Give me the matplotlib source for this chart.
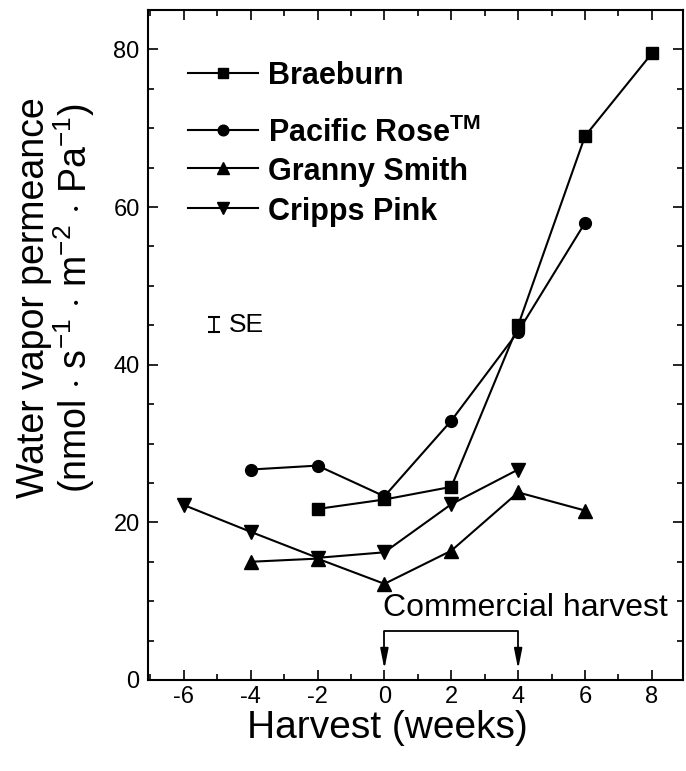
import matplotlib
matplotlib.use("Agg")
import matplotlib.pyplot as plt
from matplotlib.ticker import MultipleLocator
from matplotlib.lines import Line2D

plt.rcParams['font.family'] = ['Liberation Sans', 'DejaVu Sans']
plt.rcParams['mathtext.fontset'] = 'custom'
plt.rcParams['mathtext.rm'] = 'Liberation Sans'
plt.rcParams['mathtext.it'] = 'Liberation Sans:italic'
plt.rcParams['mathtext.bf'] = 'Liberation Sans:bold'
plt.rcParams['axes.unicode_minus'] = False

# Data
braeburn_x = [-2, 0, 2, 4, 6, 8]
braeburn_y = [21.7, 22.9, 24.5, 45.0, 69.0, 79.5]
pacific_x = [-4, -2, 0, 2, 4, 6]
pacific_y = [26.7, 27.2, 23.3, 32.9, 44.2, 58.0]
granny_x = [-4, -2, 0, 2, 4, 6]
granny_y = [15.0, 15.4, 12.2, 16.4, 23.8, 21.5]
cripps_x = [-6, -4, -2, 0, 2, 4]
cripps_y = [22.2, 18.8, 15.5, 16.2, 22.3, 26.7]

x_ticks = [-6, -4, -2, 0, 2, 4, 6, 8]
y_ticks = [0, 20, 40, 60, 80]
series_labels = ['Braeburn', r'Pacific Rose$^{\mathbf{TM}}$', 'Granny Smith', 'Cripps Pink']
markers = ['s', 'o', '^', 'v']
msizes = [8, 8.5, 10, 10]

fig = plt.figure(figsize=(6.86, 7.71), dpi=100)
ax = fig.add_axes([148/686, 1-680/771, (683-148)/686, (680-10)/771])

lw = 1.5
series = [(braeburn_x, braeburn_y), (pacific_x, pacific_y),
          (granny_x, granny_y), (cripps_x, cripps_y)]
for (xs, ys), m, s in zip(series, markers, msizes):
    ax.plot(xs, ys, marker=m, ms=s, color='black', lw=lw)

ax.set_xlim(-7.07, 8.93)
ax.set_ylim(0, 85)
ax.set_xticks(x_ticks)
ax.set_yticks(y_ticks)
ax.xaxis.set_minor_locator(MultipleLocator(1))
ax.yaxis.set_minor_locator(MultipleLocator(5))
ax.tick_params(which='both', direction='in', top=True, right=True, width=1.2, labelsize=17)
ax.tick_params(axis='x', pad=4)
ax.tick_params(axis='y', pad=6)
ax.tick_params(which='major', length=7)
ax.tick_params(which='minor', length=4)
for sp in ax.spines.values():
    sp.set_linewidth(1.5)

ax.set_xlabel('Harvest (weeks)', fontsize=28, labelpad=4)
ax.xaxis.set_label_coords(0.447, -0.045)
ax.set_ylabel('Water vapor permeance\n' + r'(nmol $\cdot$ s$^{-1}$ $\cdot$ m$^{-2}$ $\cdot$ Pa$^{-1}$)',
              fontsize=27, linespacing=1.0)
ax.yaxis.set_label_coords(-0.095, 0.57)

# Legend (manual, axes-fraction placement)
row_y = [0.906, 0.821, 0.764, 0.704]
for lab, m, s, yy in zip(series_labels, markers, msizes, row_y):
    ax.add_line(Line2D([0.0748, 0.2056], [yy, yy], transform=ax.transAxes,
                       color='black', lw=lw))
    ax.add_line(Line2D([0.140], [yy], transform=ax.transAxes, marker=m,
                       ms=s * 0.9, color='black', lw=0))
    ax.text(0.2243, yy, lab, transform=ax.transAxes, fontsize=22,
            fontweight='bold', va='center_baseline', ha='left')

# SE marker
ax.errorbar([-5.1], [45.1], yerr=[[1.0], [1.0]], color='black', capsize=4.5, lw=1.3, capthick=1.5)
ax.text(-4.65, 45.1, 'SE', fontsize=19, va='center', ha='left')

# Commercial harvest annotation
ax.text(-0.05, 8.1, 'Commercial harvest', fontsize=23, ha='left', va='baseline')
ax.plot([0, 0, 4, 4], [3.0, 6.2, 6.2, 3.0], color='black', lw=1.3)
for xv in [0, 4]:
    ax.annotate('', xy=(xv, 1.4), xytext=(xv, 3.2),
                arrowprops=dict(arrowstyle='-|>,head_length=0.75,head_width=0.15',
                                color='black', lw=1.3, mutation_scale=16,
                                shrinkA=0, shrinkB=0))

fig.savefig('out.png', dpi=100)
